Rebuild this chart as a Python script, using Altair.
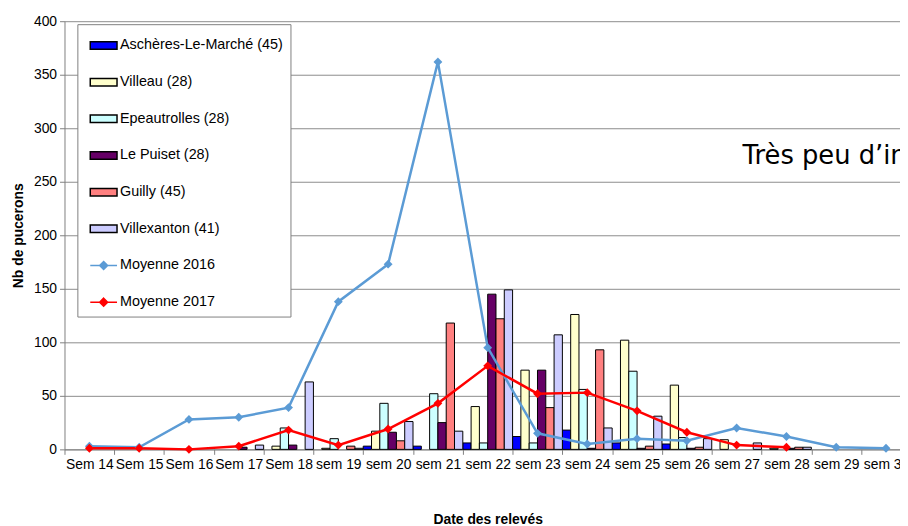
import altair as alt
import pandas as pd

weeks = ["Sem 14", "Sem 15", "Sem 16", "Sem 17", "Sem 18", "sem 19", "sem 20", "sem 21",
         "sem 22", "sem 23", "sem 24", "sem 25", "sem 26", "sem 27", "sem 28", "sem 29", "sem 30"]

sites = ["Aschères-Le-Marché (45)", "Villeau (28)", "Epeautrolles (28)",
         "Le Puiset (28)", "Guilly (45)", "Villexanton (41)"]

ascheres     = [0, 0, 0, 0, 0, 0, 3, 3, 6, 12, 18, 6, 5, 0, 0, 0, 0]
villeau      = [0, 0, 0, 0, 3, 1, 17, 0, 40, 74, 126, 102, 60, 9, 1, 0, 0]
epeautrolles = [0, 0, 0, 0, 20, 10, 43, 52, 6, 6, 56, 73, 11, 0, 0, 0, 0]
le_puiset    = [0, 0, 0, 2, 4, 0, 16, 25, 145, 74, 1, 1, 1, 0, 1, 0, 0]
guilly       = [0, 0, 0, 0, 0, 3, 8, 118, 122, 39, 93, 3, 2, 0, 2, 0, 0]
villexanton  = [0, 0, 0, 4, 63, 1, 26, 17, 149, 107, 20, 31, 10, 6, 2, 0, 0]

moy_names = ["Moyenne 2016", "Moyenne 2017"]
moy_2016 = [3, 2, 28, 30, 39, 138, 173, 362, 95, 15, 5, 10, 8, 20, 12, 2, 1]
moy_2017 = [1, 1, 0, 3, 18, 4, 19, 43, 78, 52, 53, 36, 16, 4, 2, None, None]

series_names = sites + moy_names
fill_colors = ["#0000FF", "#FFFFCC", "#CCFFFF", "#660066", "#FF8080", "#CCCCFF", "#5B9BD5", "#FF0000"]
stroke_colors = ["#000000"] * 6 + ["#5B9BD5", "#FF0000"]
rect_sym = "M-1,-0.28H1V0.28H-1Z"
line_sym = "M-1,0H1M0,-0.3L0.3,0L0,0.3L-0.3,0Z"
legend_shapes = [rect_sym] * 6 + [line_sym] * 2

note_week = ["sem 27"]
note_value = [267]
note_text = ["Très peu d’insectes"]

site_values = [ascheres, villeau, epeautrolles, le_puiset, guilly, villexanton]
bar_rows = []
for name, vals in zip(sites, site_values):
    for w, v in zip(weeks, vals):
        if v and v > 0:
            bar_rows.append({"week": w, "series": name, "value": v})
bar_df = pd.DataFrame(bar_rows)

line_rows = []
for name, vals in zip(moy_names, [moy_2016, moy_2017]):
    for w, v in zip(weeks, vals):
        if v is not None:
            line_rows.append({"week": w, "series": name, "value": v})
line_df = pd.DataFrame(line_rows)

note_df = pd.DataFrame({"week": note_week, "value": note_value, "text": note_text})

fill_scale = alt.Scale(domain=series_names, range=fill_colors)
stroke_scale = alt.Scale(domain=series_names, range=stroke_colors)
shape_scale = alt.Scale(domain=series_names, range=legend_shapes)

leg = alt.Legend(title=None, orient="none", legendX=13, legendY=3, padding=7,
                 fillColor="white", strokeColor="#808080", symbolSize=729,
                 symbolStrokeWidth=1.5, symbolOffset=5, labelFontSize=14.5,
                 labelColor="black", labelLimit=300, labelOffset=2, rowPadding=15)

x_enc = alt.X("week:N", sort=weeks,
              scale=alt.Scale(domain=weeks, paddingInner=0, paddingOuter=0),
              axis=alt.Axis(title="Date des relevés", labelAngle=0, labelFontSize=14,
                            labelColor="black", labelPadding=3, tickBand="extent",
                            tickSize=5, tickColor="#808080", domainColor="#808080",
                            titleFontSize=14, titleFontWeight="bold", titleColor="black",
                            titlePadding=42, labelOverlap=False))
y_enc = alt.Y("value:Q", scale=alt.Scale(domain=[0, 400], nice=False),
              axis=alt.Axis(title="Nb de pucerons", values=list(range(0, 401, 50)),
                            grid=True, gridColor="#8c8c8c", gridWidth=1,
                            tickSize=5, tickColor="#808080", domainColor="#808080",
                            labelFontSize=14, labelColor="black", labelPadding=3,
                            titleFontSize=14, titleFontWeight="bold", titleColor="black",
                            titlePadding=8))

# legend-only layer (no rows drawn); placed first so its legend encoding is used
legend_layer = alt.Chart(line_df).transform_filter("datum.value < 0").mark_point(
    filled=True, opacity=1, strokeWidth=1.5).encode(
    x=x_enc,
    y=y_enc,
    fill=alt.Fill("series:N", scale=fill_scale, legend=leg),
    stroke=alt.Stroke("series:N", scale=stroke_scale, legend=leg),
    shape=alt.Shape("series:N", scale=shape_scale, legend=leg),
)

bars = alt.Chart(bar_df).mark_bar(strokeWidth=1).encode(
    x=alt.X("week:N", sort=weeks),
    xOffset=alt.XOffset("series:N", sort=sites,
                        scale=alt.Scale(domain=sites, paddingInner=0, paddingOuter=0)),
    y=alt.Y("value:Q"),
    fill=alt.Fill("series:N", scale=fill_scale, legend=leg),
    stroke=alt.Stroke("series:N", scale=stroke_scale, legend=leg),
)

lines = alt.Chart(line_df).mark_line(strokeWidth=2.5).encode(
    x=alt.X("week:N", sort=weeks),
    y=alt.Y("value:Q"),
    stroke=alt.Stroke("series:N", scale=stroke_scale, legend=leg),
    detail="series:N",
)

points = alt.Chart(line_df).mark_point(filled=True, shape="diamond", size=80, opacity=1).encode(
    x=alt.X("week:N", sort=weeks),
    y=alt.Y("value:Q"),
    fill=alt.Fill("series:N", scale=fill_scale, legend=leg),
)

note = alt.Chart(note_df).mark_text(align="left", baseline="alphabetic", font="DejaVu Sans",
                                    fontSize=26, color="black", dx=6).encode(
    x=alt.X("week:N", sort=weeks),
    y=alt.Y("value:Q"),
    text="text:N",
)

chart = alt.layer(legend_layer, bars, lines, points, note).properties(
    width=854, height=432,
    autosize=alt.AutoSizeParams(type="none"),
    padding={"left": 57, "top": 11, "right": -11, "bottom": 75},
).configure(font="Liberation Sans").configure_view(stroke=None)

chart.save("out.html", embed_options={"renderer": "svg", "actions": False})
